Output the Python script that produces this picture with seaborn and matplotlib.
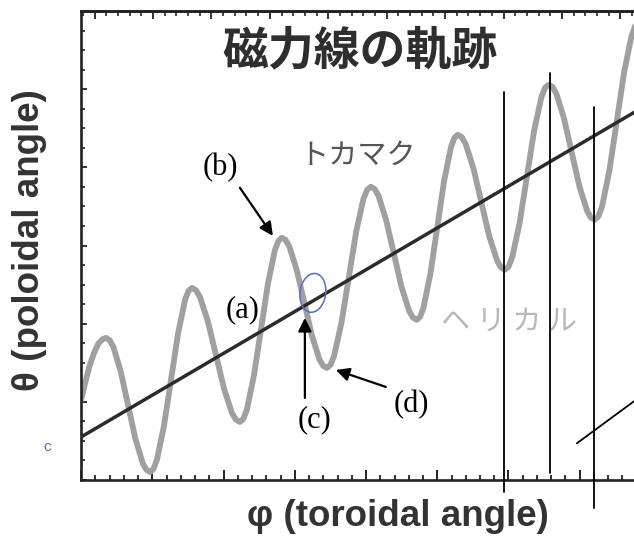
import matplotlib
matplotlib.use("Agg")
import matplotlib.pyplot as plt
from matplotlib.ticker import MultipleLocator, NullFormatter
from matplotlib.patches import Ellipse
import pandas as pd
import seaborn as sns

# Field-line trace (poloidal angle vs toroidal angle), helical case
phi_wave = [
    0.00, 0.06, 0.12, 0.18, 0.24, 0.30, 0.351, 0.402, 0.454, 0.557, 0.660, 0.762, 0.865, 0.917, 0.968,
    1.017, 1.066, 1.164, 1.263, 1.361, 1.459, 1.508, 1.557, 1.613, 1.669, 1.781, 1.894, 2.006, 2.118, 2.174, 2.230,
    2.279, 2.328, 2.426, 2.525, 2.623, 2.721, 2.770, 2.819, 2.872, 2.924, 3.029, 3.135, 3.240, 3.345, 3.397, 3.450,
    3.501, 3.553, 3.656, 3.759, 3.861, 3.964, 4.016, 4.067, 4.121, 4.175, 4.282, 4.390, 4.497, 4.605, 4.658, 4.712,
    4.760, 4.808, 4.904, 5.000, 5.096, 5.192, 5.240, 5.288, 5.343, 5.398, 5.509, 5.619, 5.729, 5.840, 5.895, 5.950,
    6.001, 6.052, 6.155, 6.257, 6.359, 6.462, 6.513, 6.564, 6.618, 6.672, 6.779, 6.887, 6.994, 7.102, 7.155, 7.209,
    7.261, 7.313, 7.416, 7.520, 7.623, 7.727, 7.778, 7.830,
]
theta_wave = [
    1.02, 1.25, 1.46, 1.62, 1.74, 1.80, 1.818, 1.789, 1.703, 1.389, 0.960, 0.531, 0.217, 0.131, 0.102,
    0.142, 0.260, 0.691, 1.280, 1.869, 2.300, 2.418, 2.458, 2.429, 2.343, 2.029, 1.600, 1.172, 0.858, 0.772, 0.743,
    0.783, 0.901, 1.332, 1.921, 2.510, 2.941, 3.059, 3.099, 3.071, 2.987, 2.683, 2.266, 1.850, 1.546, 1.462, 1.434,
    1.473, 1.589, 2.014, 2.593, 3.173, 3.597, 3.713, 3.752, 3.723, 3.638, 3.326, 2.900, 2.475, 2.163, 2.078, 2.049,
    2.089, 2.208, 2.641, 3.233, 3.825, 4.258, 4.377, 4.417, 4.388, 4.301, 3.985, 3.553, 3.122, 2.806, 2.719, 2.690,
    2.730, 2.849, 3.282, 3.874, 4.466, 4.899, 5.018, 5.058, 5.029, 4.942, 4.626, 4.193, 3.761, 3.445, 3.358, 3.329,
    3.372, 3.498, 3.959, 4.590, 5.220, 5.681, 5.810, 5.850,
]

# Tokamak case: straight field line
phi_line = [0.0, 8.0]
theta_line = [0.55, 4.83]

# Hand-drawn vertical marker lines and the short slash
marker_phi = [5.933, 6.578, 7.195]
marker_top = [4.968, 5.211, 4.776]
marker_bottom = [-0.154, 0.090, -0.359]
slash_phi = [6.96, 7.90]
slash_theta = [0.47, 1.10]

title_text = "磁力線の軌跡"
tokamak_text = "トカマク"
helical_text = "ヘ リ カ ル"
x_label = "φ (toroidal angle)"
y_label = "θ (poloidal angle)"

sns.set_theme(style="white")
plt.rcParams["font.family"] = ["Liberation Sans", "DejaVu Sans"]

fig = plt.figure(figsize=(6.34, 5.40), dpi=100)
ax = fig.add_axes([0.1278, 0.1111, 0.899, 0.8685])

wave_df = pd.DataFrame({"phi": phi_wave, "theta": theta_wave})
line_df = pd.DataFrame({"phi": phi_line, "theta": theta_line})

sns.lineplot(data=wave_df, x="phi", y="theta", ax=ax, color="#a0a0a0",
             linewidth=4.2, estimator=None, sort=False, zorder=2,
             solid_joinstyle="round", solid_capstyle="round")
sns.lineplot(data=line_df, x="phi", y="theta", ax=ax, color="#2b2b2b",
             linewidth=2.5, estimator=None, sort=False, zorder=3)

ax.set_xlim(0, 8.0)
ax.set_ylim(0, 6.0)
ax.set_xlabel("")
ax.set_ylabel("")

# Frame and inward ticks
for side in ("left", "bottom", "top"):
    ax.spines[side].set_visible(True)
    ax.spines[side].set_linewidth(1.9)
    ax.spines[side].set_color("#222222")
ax.spines["right"].set_visible(False)

ax.xaxis.set_major_locator(MultipleLocator(1.0))
ax.xaxis.set_minor_locator(MultipleLocator(0.2))
ax.yaxis.set_major_locator(MultipleLocator(1.0))
ax.yaxis.set_minor_locator(MultipleLocator(0.25))
ax.xaxis.set_major_formatter(NullFormatter())
ax.yaxis.set_major_formatter(NullFormatter())
ax.tick_params(axis="x", which="major", direction="in", length=7.5, width=1.4,
               color="#222222", bottom=True, top=False)
ax.tick_params(axis="x", which="minor", direction="in", length=3.6, width=1.3,
               color="#222222", bottom=True, top=False)
ax.tick_params(axis="y", which="major", direction="in", length=4.0, width=1.3,
               color="#222222", left=True, right=False)
ax.tick_params(axis="y", which="minor", direction="in", length=2.6, width=1.2,
               color="#222222", left=True, right=False)

top = ax.secondary_xaxis("top")
top.xaxis.set_major_locator(MultipleLocator(0.82, offset=0.19))
top.xaxis.set_minor_locator(MultipleLocator(0.164, offset=0.026))
top.xaxis.set_major_formatter(NullFormatter())
top.tick_params(which="major", direction="in", length=6.0, width=1.3, color="#222222")
top.tick_params(which="minor", direction="in", length=3.3, width=1.2, color="#222222")
top.spines["top"].set_linewidth(1.9)
top.spines["top"].set_color("#222222")

# Hand-drawn markers
for xp, y0, y1 in zip(marker_phi, marker_bottom, marker_top):
    ax.plot([xp, xp], [y0, y1], color="black", linewidth=1.3, clip_on=False, zorder=5)
ax.plot(slash_phi, slash_theta, color="black", linewidth=1.3, clip_on=False, zorder=5)

# Annotations
arrow_kw = dict(arrowstyle="-|>", color="black", lw=1.6, mutation_scale=20,
                shrinkA=0, shrinkB=0)
serif = ["Liberation Serif", "DejaVu Serif"]
ax.annotate("", xy=(2.693, 3.124), xytext=(2.230, 3.739), arrowprops=arrow_kw, zorder=6)
ax.annotate("", xy=(3.142, 2.074), xytext=(3.142, 1.050), arrowprops=arrow_kw, zorder=6)
ax.annotate("", xy=(3.576, 1.408), xytext=(4.278, 1.191), arrowprops=arrow_kw, zorder=6)

ax.text(2.272, 2.177, "(a)", family=serif, fontsize=22, ha="center", va="center", color="black")
ax.text(1.950, 3.995, "(b)", family=serif, fontsize=22, ha="center", va="center", color="black")
ax.text(3.282, 0.768, "(c)", family=serif, fontsize=22, ha="center", va="center", color="black")
ax.text(4.642, 0.960, "(d)", family=serif, fontsize=22, ha="center", va="center", color="black")

cjk = ["Noto Sans CJK JP", "DejaVu Sans"]
ax.text(3.913, 5.48, title_text, family=cjk, fontsize=33, fontweight="bold",
        ha="center", va="center", color="#2e2e2e")
ax.text(3.885, 4.149, tokamak_text, family=cjk, fontsize=21, ha="center",
        va="center", color="#555555")
ax.text(6.003, 2.023, helical_text, family=cjk, fontsize=21, ha="center",
        va="center", color="#b8b8b8")

# Pen marks: circle around the crossing point and a small note by the axis
ax.add_patch(Ellipse((3.254, 2.394), 0.36, 0.50, angle=-10, fill=False,
                     edgecolor="#5a6cb8", linewidth=1.1, zorder=4))
fig.text(47 / 634, 1 - 447 / 540, "c", fontsize=11, color="#5a6cb8",
         ha="center", va="center")

fig.text(398 / 634, 1 - 517 / 540, x_label, fontsize=26.5, fontweight="bold",
         ha="center", va="center", color="#333333")
fig.text(30 / 634, 1 - 240 / 540, y_label, fontsize=26.5, fontweight="bold",
         ha="center", va="center", rotation=90, color="#333333")

fig.savefig("out.png", dpi=100, facecolor="white")
